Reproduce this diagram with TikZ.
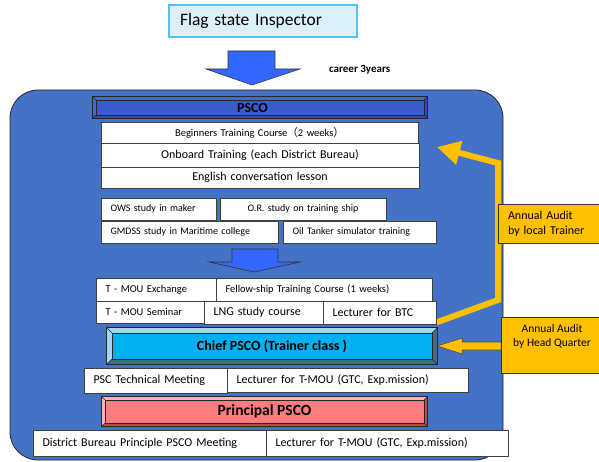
\documentclass[tikz,border=0pt]{standalone}
\usepackage{fontspec}
\setmainfont{Carlito}
\newfontfamily\cjk{Noto Sans CJK SC}
\usetikzlibrary{arrows.meta,calc}

\definecolor{panelblue}{HTML}{4472C4}
\definecolor{arrowblue}{HTML}{3366FF}
\definecolor{pscofill}{HTML}{3A5BCF}
\definecolor{pscolight}{HTML}{4668D6}
\definecolor{pscodark}{HTML}{2F4DB5}
\definecolor{chieffill}{HTML}{00B0F0}
\definecolor{chieflight}{HTML}{A3D6F3}
\definecolor{chiefdark}{HTML}{3E6C93}
\definecolor{princfill}{HTML}{FF7C80}
\definecolor{princlight}{HTML}{FFB2B4}
\definecolor{princdark}{HTML}{B94A50}
\definecolor{auditfill}{HTML}{FFC000}
\definecolor{flagfill}{HTML}{DCF0FA}
\definecolor{flagline}{HTML}{55C1EC}

\pgfdeclarelayer{panel}
\pgfdeclarelayer{back}
\pgfsetlayers{panel,back,main}

\tikzset{
  fs/.style={font=\fontsize{#1}{#1}\selectfont},
  fsb/.style={font=\fontsize{#1}{#1}\selectfont\bfseries},
  cellbox/.style={draw=black!75, line width=0.8pt, fill=white,
    inner xsep=9.5pt, inner ysep=0pt, align=left},
  ctr/.style={align=center},
  barbox/.style={draw=none, inner sep=0pt},
  auditbox/.style={draw=black!80, line width=0.8pt, fill=auditfill, inner ysep=0pt},
  blockarrow/.style={fill=arrowblue, draw=black!80, line width=0.6pt},
  auditline/.style={draw=auditfill, line width=6pt, line join=miter},
}

% white table cell given by its corners (x1,y1) -- (x2,y2)
\newcommand\cell[7][]{%
  \pgfmathsetmacro\cellw{#5-#3}%
  \pgfmathsetmacro\cellh{#6-#4}%
  \pgfmathsetmacro\celltw{#5-#3-19}%
  \node[cellbox, minimum width=\cellw pt, minimum height=\cellh pt,
        text width=\celltw pt, #1] (#2) at ({(#3+#5)/2},{(#4+#6)/2}) {#7};}

% raised frame around a bar node: #1 node, #2 depth, #3 lit faces, #4 shaded faces
\newcommand\bevel[4]{%
  \fill[#3] (#1.north west) -- (#1.north east) -- ($(#1.north east)+(-#2,#2)$)
    -- ($(#1.north west)+(#2,#2)$) -- cycle;
  \fill[#3] (#1.north west) -- (#1.south west) -- ($(#1.south west)+(#2,-#2)$)
    -- ($(#1.north west)+(#2,#2)$) -- cycle;
  \fill[#4] (#1.north east) -- (#1.south east) -- ($(#1.south east)+(-#2,-#2)$)
    -- ($(#1.north east)+(-#2,#2)$) -- cycle;
  \fill[#4] (#1.south west) -- (#1.south east) -- ($(#1.south east)+(-#2,-#2)$)
    -- ($(#1.south west)+(#2,-#2)$) -- cycle;
  \draw[black!85, line width=0.7pt] (#1.north west) rectangle (#1.south east);
  \draw[black!85, line width=0.5pt] ($(#1.north west)+(#2,#2)$) rectangle ($(#1.south east)+(-#2,-#2)$);
  \draw[black!85, line width=0.4pt]
    (#1.north west) -- ($(#1.north west)+(#2,#2)$)
    (#1.north east) -- ($(#1.north east)+(-#2,#2)$)
    (#1.south west) -- ($(#1.south west)+(#2,-#2)$)
    (#1.south east) -- ($(#1.south east)+(-#2,-#2)$);}

\begin{document}
\begin{tikzpicture}[x=1pt, y=-1pt]
\useasboundingbox (0,0) rectangle (599,462);

% career panel
\begin{pgfonlayer}{panel}
  \node[draw=black!85, line width=0.8pt, fill=panelblue, rounded corners=28pt,
        minimum width=493pt, minimum height=370pt, inner sep=0pt] (panel) at (256.5,275) {};
\end{pgfonlayer}

% entry box
\node[draw=flagline, line width=1.2pt, fill=flagfill, minimum width=188pt, minimum height=32pt,
      inner xsep=11pt, text width=166pt, align=left, fs=17.5] (flag) at (263,21) {Flag state Inspector};

% block arrows
\path[blockarrow] (228,51) -- (275,51) -- (275,69) -- (300,69) -- (252,85) -- (206,69) -- (228,69) -- cycle;
\node[anchor=west, inner sep=0pt, fsb=11] (career) at (329,70) {career 3years};
\path[blockarrow] (232,249) -- (278,249) -- (278,262) -- (300,262) -- (254,272) -- (209,262) -- (232,262) -- cycle;

% PSCO bar
\node[barbox, fill=pscofill, minimum width=334pt, minimum height=21pt, fsb=14] (psco) at (260,107.5) {\hspace*{-15pt}PSCO};
\bevel{psco}{3}{pscolight}{pscodark}

% PSCO training
\cell[fs=10.5,ctr]{beginners}{101}{122}{418}{143}{Beginners Training Course{\cjk （}2 weeks{\cjk ）}}
\cell[fs=12,ctr]{onboard}{101}{143}{419}{167}{Onboard Training (each District Bureau)}
\cell[fs=12,ctr]{english}{101}{167}{419}{188}{English conversation lesson}
\cell[fs=10]{ows}{101}{198}{216}{220}{OWS study in maker}
\cell[fs=10,ctr]{orstudy}{220}{198}{386}{220}{O.R. study on training ship}
\cell[fs=10]{gmdss}{101}{221}{278}{243}{GMDSS study in Maritime college}
\cell[fs=10]{tanker}{283}{221}{436}{243}{Oil Tanker simulator training}

% towards chief PSCO
\cell[fs=10.5]{mouex}{96}{278}{216}{301}{T - MOU Exchange}
\cell[fs=10.5]{fellow}{216}{278}{432}{301}{Fellow-ship Training Course (1 weeks)}
\cell[fs=10.5]{mousem}{96}{301}{204}{323}{T - MOU Seminar}
\cell[fs=12]{lng}{204}{301}{323}{324}{LNG study course}
\cell[fs=12]{btc}{323}{301}{436}{324}{Lecturer for BTC}

% chief PSCO bar
\node[barbox, fill=chieffill, minimum width=330pt, minimum height=36pt, fsb=14] (chief) at (272,346) {Chief PSCO (Trainer class )};
\bevel{chief}{5}{chieflight}{chiefdark}

\cell[fs=12]{psctech}{84}{368}{227}{393}{PSC Technical Meeting}
\cell[fs=12]{lecmou}{227}{368}{468}{392}{Lecturer for T-MOU (GTC, Exp.mission)}

% principal PSCO bar
\node[barbox, fill=princfill, minimum width=325pt, minimum height=29pt, fsb=15.5] (principal) at (264.5,411.5) {Principal PSCO};
\bevel{principal}{3}{princlight}{princdark}

\cell[fs=12]{district}{33}{430}{266}{456}{District Bureau Principle PSCO Meeting}
\cell[fs=12]{lecmoub}{266}{430}{508}{456}{Lecturer for T-MOU (GTC, Exp.mission)}

% audits
\node[auditbox, minimum width=107pt, minimum height=39pt, inner xsep=10pt, text width=87pt,
      align=left, font=\fontsize{12}{15}\selectfont] (localaudit) at (551.5,223.5) {Annual Audit\\by local Trainer};

% local trainer feedback line
\coordinate (linefoot) at ($(btc.south east)+(0,-2)$);
\coordinate (lineknee) at (498,300);
\coordinate (linetop) at (498,163);
\coordinate (auditTip) at (437,147);
\begin{pgfonlayer}{back}
  \draw[auditline, -{Triangle[length=23pt,width=23pt]}] (linefoot) -- (lineknee) -- (linetop) -- (auditTip);
\end{pgfonlayer}

% head quarter audit arrow, then its box on top
\filldraw[fill=auditfill, draw=black!70, line width=0.6pt]
  (chief.east) -- ++(25,-8) -- ++(0,4) -- ++(39,0) -- ++(0,8) -- ++(-39,0) -- ++(0,4) -- cycle;
\node[auditbox, minimum width=102pt, minimum height=56pt, inner xsep=4pt, align=center,
      text depth=18pt, font=\fontsize{11.5}{14}\selectfont] (hqaudit) at (552,345) {Annual Audit\\by Head Quarter};
\end{tikzpicture}
\end{document}
